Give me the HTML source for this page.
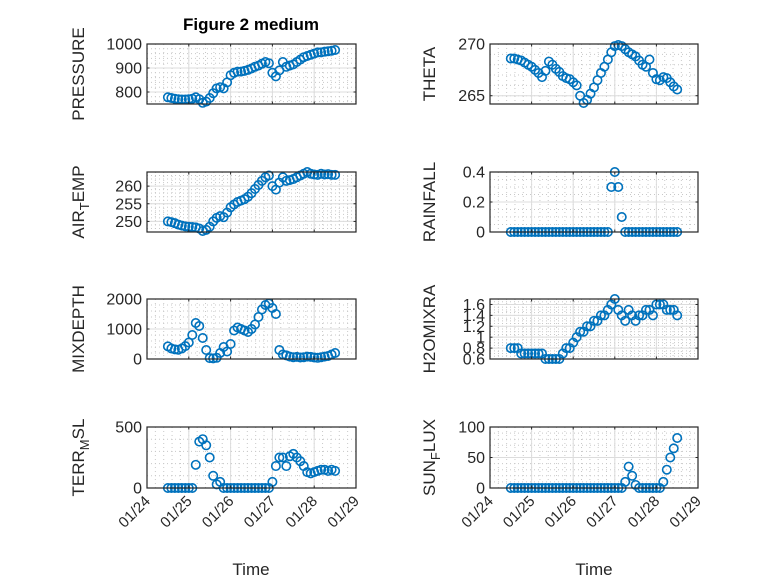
<!DOCTYPE html>
<html><head><meta charset="utf-8"><style>
body{margin:0;background:#fff}
svg{display:block;font-family:"Liberation Sans",sans-serif}
</style></head><body>
<svg id="fig" width="778" height="583" viewBox="0 0 778 583" xmlns="http://www.w3.org/2000/svg">
<rect width="778" height="583" fill="#fff"/>
<text x="251" y="30" text-anchor="middle" font-weight="bold" font-size="17" fill="#000">Figure 2 medium</text>
<text x="251" y="575" text-anchor="middle" font-size="17" fill="#262626">Time</text>
<text x="594" y="575" text-anchor="middle" font-size="17" fill="#262626">Time</text>
</svg>
<script>
const t0 = 24.5, dt = 1/12;
const xTicks = [24,25,26,27,28,29];
const xTickLabels = ["01/24","01/25","01/26","01/27","01/28","01/29"];
const pressure = [778,775,772,770,769,769,770,772,778,770,755,760,775,795,815,820,815,840,870,880,885,885,888,892,898,905,910,918,925,920,880,865,890,925,905,910,915,925,935,945,950,955,960,965,965,968,970,972,975];
const theta = [268.6,268.6,268.5,268.4,268.2,268.0,267.8,267.5,267.2,266.8,267.4,268.3,268.0,267.6,267.3,266.9,266.7,266.6,266.3,266.0,265.0,264.3,264.6,265.2,265.8,266.5,267.2,267.8,268.5,269.2,269.8,269.9,269.8,269.5,269.2,269.0,268.8,268.4,268.0,267.8,268.5,267.2,266.6,266.5,266.8,266.7,266.3,265.9,265.6];
const airTemp = [250,249.8,249.5,249.1,248.8,248.6,248.5,248.4,248.3,248.0,247.3,247.6,248.5,250.0,251.0,251.5,251.2,252.5,254.0,254.8,255.5,255.9,256.3,257.0,258.0,259.2,260.3,261.5,262.5,263.0,260.0,259.0,261.0,262.5,261.5,261.7,262.0,262.5,263.0,263.5,264.0,263.5,263.3,263.2,263.5,263.3,263.4,263.2,263.2];
const rainfall = [0,0,0,0,0,0,0,0,0,0,0,0,0,0,0,0,0,0,0,0,0,0,0,0,0,0,0,0,0,0.3,0.4,0.3,0.1,0,0,0,0,0,0,0,0,0,0,0,0,0,0,0,0];
const mixDepth = [420,350,320,310,350,430,550,800,1200,1100,700,300,30,20,40,200,400,250,500,950,1050,1000,950,900,1000,1150,1400,1650,1800,1850,1700,1500,300,150,120,80,60,70,50,60,80,70,50,40,60,80,100,150,200];
const h2oMix = [0.8,0.8,0.8,0.7,0.7,0.7,0.7,0.7,0.7,0.7,0.6,0.6,0.6,0.6,0.6,0.7,0.8,0.8,0.9,1.0,1.1,1.1,1.2,1.2,1.3,1.3,1.4,1.4,1.5,1.6,1.7,1.5,1.4,1.3,1.5,1.4,1.3,1.4,1.4,1.5,1.5,1.4,1.6,1.6,1.6,1.5,1.5,1.5,1.4];
const terrMsl = [0,0,0,0,0,0,0,0,190,380,400,350,250,100,30,50,0,0,0,0,0,0,0,0,0,0,0,0,0,0,50,180,250,250,180,260,280,250,220,180,130,120,130,140,150,150,140,150,140];
const sunFlux = [0,0,0,0,0,0,0,0,0,0,0,0,0,0,0,0,0,0,0,0,0,0,0,0,0,0,0,0,0,0,0,0,0,10,35,20,5,0,0,0,0,0,0,0,10,30,50,65,82];

const panels = [
 {name:"pressure",label:["PRESSURE"],data:pressure,ylim:[750,1000],ticks:[800,900,1000],minor:20,col:0,row:0},
 {name:"theta",label:["THETA"],data:theta,ylim:[264.2,270],ticks:[265,270],minor:1,col:1,row:0},
 {name:"air-temp",label:["AIR","T","EMP"],data:airTemp,ylim:[247,264],ticks:[250,255,260],minor:1,col:0,row:1},
 {name:"rainfall",label:["RAINFALL"],data:rainfall,ylim:[0,0.4],ticks:[0,0.2,0.4],minor:0.05,col:1,row:1},
 {name:"mixdepth",label:["MIXDEPTH"],data:mixDepth,ylim:[0,2000],ticks:[0,1000,2000],minor:200,col:0,row:2},
 {name:"h2omixra",label:["H2OMIXRA"],data:h2oMix,ylim:[0.6,1.7],ticks:[0.6,0.8,1,1.2,1.4,1.6],minor:0.05,col:1,row:2},
 {name:"terr-msl",label:["TERR","M","SL"],data:terrMsl,ylim:[0,500],ticks:[0,500],minor:100,col:0,row:3},
 {name:"sun-flux",label:["SUN","F","LUX"],data:sunFlux,ylim:[0,100],ticks:[0,50,100],minor:10,col:1,row:3}
];
const colX = [[147,356],[490,698]];
const rowY = [[44,104],[172,232],[299,359],[427,488]];
const NS = "http://www.w3.org/2000/svg";
const svg = document.getElementById("fig");
function mk(tag, attrs, parent){const e=document.createElementNS(NS,tag);for(const k in attrs)e.setAttribute(k,attrs[k]);(parent||svg).appendChild(e);return e;}

panels.forEach(p=>{
  const [x0,x1]=colX[p.col],[y0,y1]=rowY[p.row];
  const xs=v=>x0+(v-24)/5*(x1-x0);
  const ys=v=>y1-(v-p.ylim[0])/(p.ylim[1]-p.ylim[0])*(y1-y0);
  const g=mk("g",{});
  
  
  mk("rect",{x:x0,y:y0,width:x1-x0,height:y1-y0,fill:"#fff"},g);
  for(let v=24;v<=29.001;v+=0.2){const x=xs(v);mk("line",{x1:x,x2:x,y1:y0,y2:y1,stroke:"#c8c8c8","stroke-dasharray":"1 3","stroke-width":1},g);}
  const m0=Math.ceil(p.ylim[0]/p.minor)*p.minor;
  for(let v=m0;v<=p.ylim[1]+1e-9;v+=p.minor){const y=ys(v);mk("line",{x1:x0,x2:x1,y1:y,y2:y,stroke:"#c8c8c8","stroke-dasharray":"1 3","stroke-width":1},g);}
  xTicks.forEach(v=>{const x=xs(v);mk("line",{x1:x,x2:x,y1:y0,y2:y1,stroke:"#dcdcdc","stroke-width":1},g);});
  p.ticks.forEach(v=>{const y=ys(v);mk("line",{x1:x0,x2:x1,y1:y,y2:y,stroke:"#dcdcdc","stroke-width":1},g);});
  p.data.forEach((v,i)=>{
    const c=mk("circle",{cx:xs(t0+i*dt),cy:ys(v),r:4.2,fill:"none",stroke:"#0072BD","stroke-width":1.6},g);
    
    
  });
  mk("rect",{x:x0,y:y0,width:x1-x0,height:y1-y0,fill:"none",stroke:"#262626","stroke-width":1.2},g);
  xTicks.forEach(v=>{const x=xs(v);mk("line",{x1:x,x2:x,y1:y1,y2:y1-2.5,stroke:"#262626"},g);mk("line",{x1:x,x2:x,y1:y0,y2:y0+2.5,stroke:"#262626"},g);});
  p.ticks.forEach(v=>{
    const y=ys(v);
    mk("line",{x1:x0,x2:x0+2.5,y1:y,y2:y,stroke:"#262626"},g);
    mk("line",{x1:x1,x2:x1-2.5,y1:y,y2:y,stroke:"#262626"},g);
    const t=mk("text",{x:x0-5,y:y+5.5,"text-anchor":"end","font-size":16,fill:"#262626"},g);
    t.textContent=String(v);
    
    
  });
  if(p.row===3){
    xTicks.forEach((v,i)=>{
      const x=xs(v),y=y1+10;
      const t=mk("text",{x:x+4,y:y+4,"text-anchor":"end","font-size":15,fill:"#262626",transform:`rotate(-45 ${x+4} ${y+4})`},g);
      t.textContent=xTickLabels[i];
      
      
    });
  }
  const lx=p.col===0?84:435, ly=(y0+y1)/2;
  const t=mk("text",{x:lx,y:ly,"text-anchor":"middle","font-size":17,fill:"#262626",transform:`rotate(-90 ${lx} ${ly})`},g);
  
  
  if(p.label.length===1){t.textContent=p.label[0];}
  else{
    const a=mk("tspan",{},t);a.textContent=p.label[0];
    const b=mk("tspan",{dy:5,"font-size":13},t);b.textContent=p.label[1];
    const c=mk("tspan",{dy:-5},t);c.textContent=p.label[2];
  }
});
</script>
</body></html>
